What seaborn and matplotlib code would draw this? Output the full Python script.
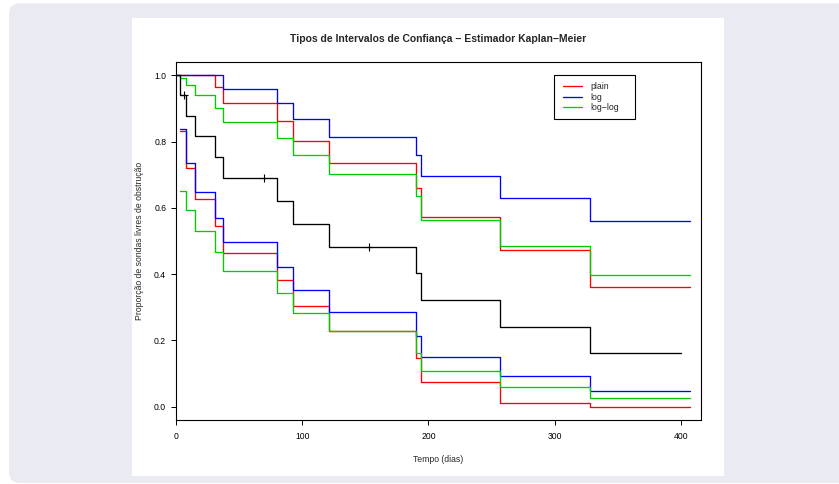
import matplotlib
matplotlib.use("Agg")
import pandas as pd
import matplotlib.pyplot as plt
import seaborn as sns
from matplotlib.lines import Line2D
from matplotlib.patches import FancyBboxPatch, Rectangle

# -------------------- DATA --------------------
tempos = [0, 3, 8, 15, 31, 37, 80, 93, 121, 190, 194, 257, 328]
fim_km = 400
fim_ic = 407

km = [1.0, 0.941, 0.878, 0.816, 0.753, 0.690, 0.621, 0.552, 0.483, 0.403, 0.322, 0.242, 0.161]
cens_t = [6, 70, 153]
cens_s = [0.941, 0.690, 0.483]

# upper curves start at t=0, lower curves start at the first event (t=3)
plain_sup = [1.0, 1.0, 1.0, 1.0, 0.966, 0.917, 0.863, 0.803, 0.736, 0.659, 0.572, 0.473, 0.362]
plain_inf = [0.833, 0.721, 0.628, 0.544, 0.465, 0.381, 0.303, 0.230, 0.147, 0.074, 0.010, 0.0]
log_sup = [1.0, 1.0, 1.0, 1.0, 1.0, 0.960, 0.917, 0.869, 0.815, 0.759, 0.696, 0.629, 0.561]
log_inf = [0.837, 0.734, 0.647, 0.570, 0.497, 0.423, 0.352, 0.287, 0.214, 0.149, 0.093, 0.046]
loglog_sup = [1.0, 0.993, 0.971, 0.939, 0.900, 0.860, 0.811, 0.758, 0.703, 0.636, 0.564, 0.485, 0.398]
loglog_inf = [0.652, 0.595, 0.531, 0.468, 0.408, 0.342, 0.282, 0.227, 0.161, 0.107, 0.061, 0.026]

tipos = ["plain", "log", "log\u2212log"]
cores = ["#ff0000", "#0000ff", "#00cd00"]

# -------------------- STYLE --------------------
sns.set_style("ticks")
plt.rcParams['font.family'] = ['Liberation Sans', 'DejaVu Sans']
plt.rcParams['axes.unicode_minus'] = True


def degrau(ax, x, y, fim, cor):
    df = pd.DataFrame({"t": list(x) + [fim], "s": list(y) + [y[-1]]})
    sns.lineplot(data=df, x="t", y="s", ax=ax, color=cor, lw=0.95,
                 drawstyle="steps-post", estimator=None, sort=False)


# -------------------- FIGURE --------------------
fig = plt.figure(figsize=(8.39, 4.84), dpi=100)
fig.patch.set_facecolor("white")

fundo = FancyBboxPatch((0.09, 0.01), 8.6, 4.797,
                       boxstyle="round,pad=0,rounding_size=0.11",
                       transform=fig.dpi_scale_trans, fc="#eaeaf2", ec="none", zorder=-2)
painel = Rectangle((1.32, 0.08), 5.92, 4.58, transform=fig.dpi_scale_trans,
                   fc="white", ec="none", zorder=-1)
fig.patches.extend([fundo, painel])

ax = fig.add_axes([176 / 839, 64 / 484, 525 / 839, 358 / 484])
ax.set_facecolor("none")

sup = [plain_sup, log_sup, loglog_sup]
inf = [plain_inf, log_inf, loglog_inf]
for s, i, c in zip(sup, inf, cores):
    degrau(ax, tempos, s, fim_ic, c)
    degrau(ax, tempos[1:], i, fim_ic, c)

degrau(ax, tempos, km, fim_km, "black")
sns.scatterplot(x=cens_t, y=cens_s, ax=ax, marker="+", color="black",
                s=30, linewidth=0.8, zorder=5)

ax.set_xlim(0, 416)
ax.set_ylim(-0.04, 1.04)
ax.set_xticks([0, 100, 200, 300, 400])
ax.set_yticks([0.0, 0.2, 0.4, 0.6, 0.8, 1.0])
ax.set_yticklabels(["0.0", "0.2", "0.4", "0.6", "0.8", "1.0"])
ax.tick_params(axis="both", direction="out", length=3.9, width=0.7,
               labelsize=6.2, colors="black")
ax.tick_params(axis="x", pad=4.6)
ax.tick_params(axis="y", pad=3.2)
for sp in ax.spines.values():
    sp.set_visible(True)
    sp.set_linewidth(0.8)
    sp.set_color("black")

ax.set_xlabel("Tempo (dias)", fontsize=6.2)
ax.xaxis.set_label_coords(0.5, -0.109)
ax.xaxis.label.set_va("center")
ax.set_ylabel("Proporção de sondas livres de obstrução", fontsize=6.2)
ax.yaxis.set_label_coords(-0.069, 0.5)
ax.yaxis.label.set_va("center")

ax.set_title("Tipos de Intervalos de Confiança \u2212 Estimador Kaplan\u2212Meier",
             fontsize=7.5, fontweight="bold", y=1.064, va="center", pad=0)

# legend (R style box)
alcas = [Line2D([0], [0], color=c, lw=0.95) for c in cores]
ax.legend(alcas, tipos, loc="upper left", bbox_to_anchor=(0.7366, 0.9440),
          frameon=False, fontsize=6.3, borderpad=0, borderaxespad=0,
          handlelength=2.2, handletextpad=0.95, labelspacing=0.18)
ax.add_patch(Rectangle((0.7206, 0.840), 0.1531, 0.1228, transform=ax.transAxes,
                       fill=False, ec="black", lw=0.8, zorder=6))

fig.savefig("out.png", dpi=100)
